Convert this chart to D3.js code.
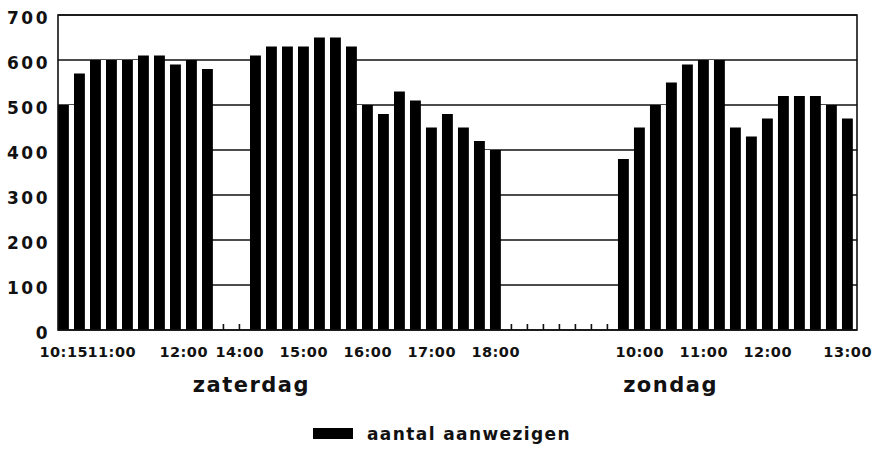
<!DOCTYPE html>
<meta charset="utf-8">
<style>
body { margin: 0; background: #fff; }
text { font-family: "DejaVu Sans", sans-serif; font-weight: bold; fill: #111; }
.frame line, .frame rect { stroke: #111; stroke-width: 1.6; fill: none; }
</style>
<body>
<div id="chart"></div>
<script src="https://d3js.org/d3.v7.min.js"></script>
<script>

// aantal aanwezigen per kwartier (0 = geen meting)
var aanwezigen = [
  500, 570, 600, 600, 600, 610, 610, 590, 600, 580,
  0, 0,
  610, 630, 630, 630, 650, 650, 630, 500, 480, 530, 510, 450, 480, 450, 420, 400,
  0, 0, 0, 0, 0, 0, 0,
  380, 450, 500, 550, 590, 600, 600, 450, 430, 470, 520, 520, 520, 500, 470
];
var slots = d3.range(aanwezigen.length);

// tijd labels and the slot they sit under
var tijdLabels = ["10:15", "11:00", "12:00", "14:00", "15:00", "16:00", "17:00", "18:00",
                  "10:00", "11:00", "12:00", "13:00"];
var tijdSlot = [0, 3, 7.5, 11, 15, 19, 23, 27, 36, 40, 44, 49];

var dagen = ["zaterdag", "zondag"];
var dagSlot = [11.7, 37.9];

var yTicks = [0, 100, 200, 300, 400, 500, 600, 700];
var legendLabel = "aantal aanwezigen";

var width = 877,
    height = 449,
    margin = {top: 15, right: 20, bottom: 119, left: 58};
var innerW = width - margin.left - margin.right,
    innerH = height - margin.top - margin.bottom;

var svg = d3.select("#chart").append("svg")
    .attr("width", width)
    .attr("height", height);

var g = svg.append("g")
    .attr("transform", `translate(${margin.left},${margin.top})`);

var xScale = d3.scaleBand().domain(slots).range([0, innerW])
    .paddingInner(0.32).paddingOuter(0.13).align(0);
var bw = xScale.bandwidth();
var xPos = d3.scaleLinear().domain([0, slots.length - 1])
    .range([xScale(0) + bw / 2, xScale(slots.length - 1) + bw / 2]);
var yScale = d3.scaleLinear().domain([0, 700]).range([innerH, 0]);

// gridlines
g.append("g").attr("class", "frame")
  .selectAll("line")
  .data(yTicks)
  .enter().append("line")
  .attr("x1", 0).attr("x2", innerW)
  .attr("y1", d => yScale(d)).attr("y2", d => yScale(d));

// little ticks on the x axis
g.append("g").attr("class", "frame")
  .selectAll("line")
  .data(slots)
  .enter().append("line")
  .attr("x1", d => xScale(d) + bw / 2).attr("x2", d => xScale(d) + bw / 2)
  .attr("y1", innerH).attr("y2", innerH - 6);

// white behind the bars hides the gridlines
g.append("g")
  .selectAll("rect")
  .data(slots.slice(0, -1))
  .enter().append("rect")
  .attr("fill", "#fff")
  .attr("x", d => xScale(d))
  .attr("width", xScale.step() + 0.5)
  .attr("y", d => yScale(Math.min(aanwezigen[d], aanwezigen[d + 1])))
  .attr("height", d => innerH - 1 - yScale(Math.min(aanwezigen[d], aanwezigen[d + 1])));

// bars
g.append("g")
  .selectAll("rect")
  .data(slots.filter(d => aanwezigen[d] > 0))
  .enter().append("rect")
  .attr("fill", "#000")
  .attr("x", d => xScale(d))
  .attr("width", bw)
  .attr("y", d => yScale(aanwezigen[d]))
  .attr("height", d => innerH - yScale(aanwezigen[d]));

// frame
g.append("g").attr("class", "frame")
  .append("rect")
  .attr("x", 0).attr("y", 0)
  .attr("width", innerW).attr("height", innerH);

// y labels
g.append("g")
  .selectAll("text")
  .data(yTicks)
  .enter().append("text")
  .attr("x", -8)
  .attr("y", d => yScale(d) + 8.5)
  .attr("text-anchor", "end")
  .style("font-size", "17px")
  .style("letter-spacing", "2.5px")
  .text(d => d);

// x labels
g.append("g")
  .selectAll("text")
  .data(tijdLabels)
  .enter().append("text")
  .attr("x", (d, i) => xPos(tijdSlot[i]) + 0.3)
  .attr("y", innerH + 27)
  .attr("text-anchor", "middle")
  .style("font-size", "14.5px")
  .style("letter-spacing", "0.5px")
  .text(d => d);

// day labels
g.append("g")
  .selectAll("text")
  .data(dagen)
  .enter().append("text")
  .attr("x", (d, i) => xPos(dagSlot[i]) + 0.75)
  .attr("y", innerH + 62)
  .attr("text-anchor", "middle")
  .style("font-size", "21px")
  .style("letter-spacing", "1.5px")
  .text(d => d);

// legend
var legend = svg.append("g").attr("transform", "translate(313,428)");
legend.append("rect")
  .attr("width", 40).attr("height", 11)
  .attr("fill", "#000");
legend.append("text")
  .attr("x", 54).attr("y", 12)
  .style("font-size", "17px")
  .style("letter-spacing", "1.4px")
  .text(legendLabel);

</script>
</body>
